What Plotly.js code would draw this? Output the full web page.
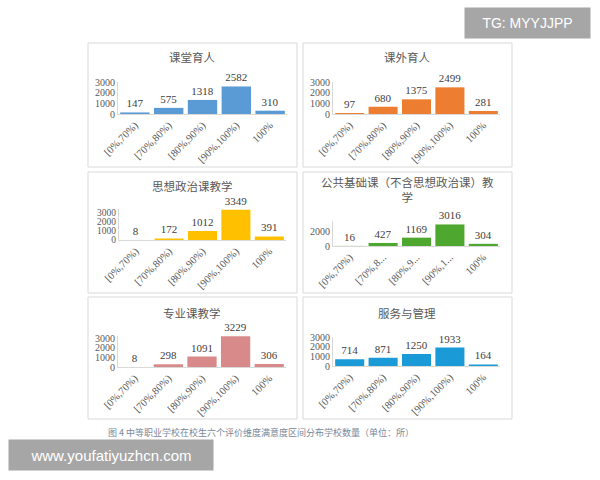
<!DOCTYPE html>
<html>
<head>
<meta charset="utf-8">
<script src="https://cdn.plot.ly/plotly-3.0.1.min.js"></script>
<style>html,body{margin:0;padding:0;background:#fff;}#chart{width:600px;height:480px;}</style>
</head>
<body>
<div id="chart"></div>
<script>
// ---- data ----
const categories = ["[0%,70%)", "[70%,80%)", "[80%,90%)", "[90%,100%)", "100%"];
const truncatedLabels = ["[0%,70%)", "[70%,8...", "[80%,9...", "[90%,1...", "100%"];
const panelTitles = ["课堂育人", "课外育人", "思想政治课教学", "公共基础课（不含思想政治课）教<br>学", "专业课教学", "服务与管理"];
const classroom = [147, 575, 1318, 2582, 310];
const extracurricular = [97, 680, 1375, 2499, 281];
const ideological = [8, 172, 1012, 3349, 391];
const publicBasic = [16, 427, 1169, 3016, 304];
const professional = [8, 298, 1091, 3229, 306];
const service = [714, 871, 1250, 1933, 164];
const caption = "图 4 中等职业学校在校生六个评价维度满意度区间分布学校数量（单位：所）";

const seriesList = [classroom, extracurricular, ideological, publicBasic, professional, service];
const colors = ["#5b9bd5", "#ed7d31", "#ffc000", "#4ea72e", "#d88a8b", "#1a9bd7"];

// ---- layout geometry (pixels) ----
const W = 600, H = 480;
const px = v => v / W, py = v => 1 - v / H;
// [x0, x1, yBottom, yTop, yMax, dtick, yTickFontSize]
const geo = [
  [118, 287, 114, 82, 3000, 1000, 10],
  [333, 500, 114, 82, 3000, 1000, 10],
  [119, 286, 240, 208.5, 3500, 1000, 9.5],
  [333, 500, 246, 221, 3500, 2000, 10],
  [118, 286, 367, 335.5, 3300, 1000, 10],
  [333, 500, 366, 336.5, 3100, 1000, 10]
];
const boxes = [
  [88, 297, 43, 167], [303, 512, 43, 167],
  [88, 297, 172, 293], [303, 512, 172, 293],
  [88, 297, 297, 419], [303, 512, 297, 419]
];
const titlePos = [[192, 57], [407, 57], [192, 186], [407, 190], [192, 313], [407, 313]];

const traces = [];
const layout = {
  width: W, height: H,
  margin: {l: 0, r: 0, t: 0, b: 0},
  paper_bgcolor: "#ffffff", plot_bgcolor: "rgba(0,0,0,0)",
  showlegend: false,
  bargap: 0.13,
  shapes: [], annotations: []
};

seriesList.forEach((vals, i) => {
  const n = i === 0 ? "" : String(i + 1);
  traces.push({
    type: "bar", x: categories, y: vals,
    xaxis: "x" + n, yaxis: "y" + n,
    marker: {color: colors[i]},
    text: vals.map(String), textposition: "outside",
    textfont: {family: "Liberation Serif, serif", size: 11, color: "#404040"},
    cliponaxis: false, hoverinfo: "skip"
  });
  const g = geo[i];
  layout["xaxis" + n] = {
    domain: [px(g[0]), px(g[1])], anchor: "y" + n,
    type: "category",
    tickvals: categories,
    ticktext: i === 3 ? truncatedLabels : categories,
    tickangle: -45,
    tickfont: {family: "Liberation Serif, serif", size: 10.5, color: "#595959"},
    showline: true, linecolor: "#d9d9d9", linewidth: 1,
    showgrid: false, zeroline: false, ticks: "", fixedrange: true
  };
  layout["yaxis" + n] = {
    domain: [py(g[2]), py(g[3])], anchor: "x" + n,
    range: [0, g[4]], dtick: g[5], tick0: 0,
    tickfont: {family: "Liberation Serif, serif", size: g[6], color: "#595959"},
    showline: true, linecolor: "#d9d9d9", linewidth: 1,
    showgrid: false, zeroline: false, ticks: "", fixedrange: true
  };
  const b = boxes[i];
  layout.shapes.push({
    type: "rect", xref: "paper", yref: "paper",
    x0: px(b[0]), x1: px(b[1]), y0: py(b[3]), y1: py(b[2]),
    line: {color: "#d9d9d9", width: 1}, fillcolor: "rgba(0,0,0,0)", layer: "below"
  });
  const t = titlePos[i];
  layout.annotations.push({
    xref: "paper", yref: "paper", x: px(t[0]), y: py(t[1]),
    xanchor: "center", yanchor: "middle", showarrow: false,
    text: panelTitles[i],
    font: {family: "Noto Sans CJK SC, sans-serif", size: 11.5, color: "#595959"}
  });
});

layout.annotations.push({
  xref: "paper", yref: "paper", x: px(261), y: py(432),
  xanchor: "center", yanchor: "middle", showarrow: false,
  text: caption,
  font: {family: "Noto Sans CJK SC, sans-serif", size: 9, color: "#7a8799"}
});
// watermarks
layout.annotations.push({
  xref: "paper", yref: "paper", x: px(527), y: py(23),
  xanchor: "center", yanchor: "middle", showarrow: false,
  text: "TG: MYYJJPP", bgcolor: "#a6a6a6", borderpad: 6, width: 113, height: 18,
  font: {family: "Liberation Sans, Arial, sans-serif", size: 14, color: "#ffffff"}
});
layout.annotations.push({
  xref: "paper", yref: "paper", x: px(111), y: py(455),
  xanchor: "center", yanchor: "middle", showarrow: false,
  text: "www.youfatiyuzhcn.com", bgcolor: "#a6a6a6", borderpad: 6, width: 192, height: 18,
  font: {family: "Liberation Sans, Arial, sans-serif", size: 15, color: "#ffffff"}
});

Plotly.newPlot("chart", traces, layout, {staticPlot: true, displayModeBar: false});
</script>
</body>
</html>
